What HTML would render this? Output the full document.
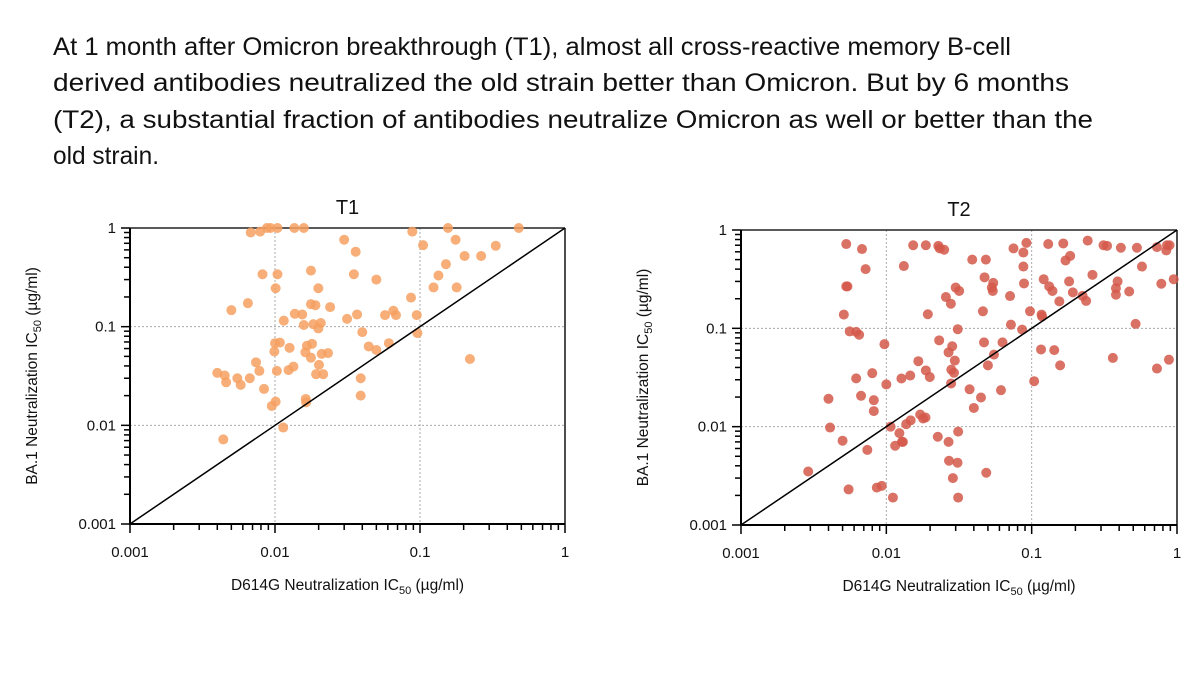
<!DOCTYPE html>
<html><head><meta charset="utf-8">
<style>
html,body{margin:0;padding:0;background:#fff;}
svg{display:block;font-family:"Liberation Sans",Arial,sans-serif;}
</style></head>
<body>
<svg id="root" width="1200" height="675" viewBox="0 0 1200 675">
  <g font-size="25" fill="#111" font-family="'Liberation Sans',sans-serif">
    <text x="53" y="55" textLength="958" lengthAdjust="spacingAndGlyphs">At 1 month after Omicron breakthrough (T1), almost all cross-reactive memory B-cell</text>
    <text x="53" y="91" textLength="1016" lengthAdjust="spacingAndGlyphs">derived antibodies neutralized the old strain better than Omicron. But by 6 months</text>
    <text x="53" y="128" textLength="1040" lengthAdjust="spacingAndGlyphs">(T2), a substantial fraction of antibodies neutralize Omicron as well or better than the</text>
    <text x="53" y="164" textLength="106" lengthAdjust="spacingAndGlyphs">old strain.</text>
  </g>
</svg>
<script>
// ---- data: T1 (orange) ----
const t1X = [0.0068,0.0079,0.0088,0.0093,0.0104,0.0136,0.0158,0.030,0.036,0.0885,0.156,0.48,0.105,0.176,0.203,0.264,0.333,0.151,0.134,0.124,0.179,0.0082,0.0104,0.0101,0.0177,0.035,0.050,0.0199,0.0065,0.0050,0.0177,0.019,0.024,0.0867,0.0137,0.0154,0.0115,0.0158,0.0184,0.0207,0.0199,0.0314,0.0368,0.0574,0.0655,0.0683,0.095,0.096,0.040,0.010,0.0108,0.0099,0.0126,0.0166,0.018,0.0162,0.0177,0.021,0.0232,0.0443,0.050,0.061,0.221,0.0201,0.0192,0.0215,0.0074,0.0078,0.0040,0.0045,0.0046,0.0055,0.0058,0.0067,0.0103,0.0124,0.0134,0.0084,0.039,0.039,0.0101,0.0095,0.0163,0.0164,0.0114,0.0044];
const t1Y = [0.90,0.92,1.0,1.0,1.0,1.0,1.0,0.76,0.575,0.92,1.0,1.0,0.67,0.76,0.52,0.52,0.66,0.43,0.33,0.25,0.25,0.34,0.34,0.245,0.37,0.34,0.30,0.245,0.173,0.147,0.169,0.165,0.158,0.197,0.135,0.133,0.115,0.104,0.106,0.109,0.096,0.12,0.133,0.131,0.145,0.131,0.131,0.086,0.088,0.068,0.069,0.056,0.061,0.064,0.067,0.055,0.0485,0.053,0.054,0.063,0.058,0.068,0.047,0.041,0.033,0.033,0.0435,0.0356,0.034,0.032,0.0273,0.030,0.0257,0.030,0.0356,0.0363,0.0394,0.0234,0.030,0.020,0.0174,0.0157,0.0185,0.0171,0.0095,0.0072];
// ---- data: T2 (red) ----
const t2X = [0.0053,0.0068,0.0072,0.0053,0.0054,0.0051,0.0056,0.0065,0.0062,0.0097,0.0132,0.0153,0.0187,0.0228,0.0233,0.025,0.039,0.0484,0.0474,0.0544,0.0532,0.054,0.030,0.0317,0.0257,0.0278,0.0193,0.0462,0.071,0.075,0.0877,0.092,0.0877,0.0886,0.0974,0.117,0.118,0.121,0.130,0.165,0.243,0.312,0.33,0.411,0.53,0.728,0.853,0.889,0.844,0.184,0.171,0.262,0.574,0.181,0.132,0.139,0.192,0.224,0.237,0.155,0.39,0.38,0.38,0.469,0.78,0.949,0.519,0.362,0.728,0.88,0.157,0.116,0.143,0.104,0.072,0.086,0.063,0.047,0.055,0.050,0.0615,0.0374,0.0448,0.040,0.031,0.0231,0.0284,0.0268,0.0296,0.028,0.0292,0.0279,0.0166,0.0187,0.0199,0.0146,0.0127,0.010,0.008,0.0062,0.0067,0.0082,0.0082,0.0040,0.0041,0.0050,0.0074,0.0029,0.0055,0.0086,0.0093,0.0111,0.0107,0.0115,0.0123,0.0128,0.0130,0.0137,0.0147,0.0171,0.0179,0.0186,0.0226,0.0268,0.0312,0.027,0.0309,0.0287,0.0312,0.0487];
const t2Y = [0.72,0.64,0.40,0.267,0.267,0.138,0.093,0.086,0.092,0.069,0.43,0.70,0.70,0.69,0.65,0.63,0.50,0.50,0.33,0.29,0.26,0.24,0.26,0.24,0.208,0.178,0.139,0.149,0.213,0.65,0.59,0.74,0.425,0.286,0.149,0.138,0.132,0.316,0.72,0.73,0.78,0.70,0.69,0.66,0.66,0.67,0.70,0.70,0.62,0.545,0.49,0.35,0.425,0.30,0.267,0.24,0.232,0.214,0.19,0.188,0.30,0.256,0.22,0.237,0.284,0.316,0.111,0.050,0.039,0.048,0.042,0.061,0.060,0.029,0.109,0.097,0.072,0.072,0.054,0.042,0.0235,0.024,0.0198,0.0155,0.098,0.0755,0.0657,0.057,0.047,0.038,0.0353,0.0275,0.0463,0.0373,0.032,0.0331,0.0309,0.0269,0.035,0.031,0.0206,0.0186,0.0144,0.0192,0.0098,0.0072,0.0058,0.0035,0.0023,0.0024,0.0025,0.0019,0.010,0.0064,0.0086,0.0070,0.0070,0.0106,0.0116,0.0133,0.0121,0.0124,0.0079,0.0070,0.0089,0.0045,0.0043,0.0030,0.0019,0.0034];
const tickVals = [0.001,0.01,0.1,1];
const tickLabels = ["0.001","0.01","0.1","1"];

const NS = "http://www.w3.org/2000/svg";
const root = document.getElementById('root');
function mk(tag, attrs, parent){
  const e = document.createElementNS(NS, tag);
  for (const k in attrs) e.setAttribute(k, attrs[k]);
  (parent||root).appendChild(e);
  return e;
}

function drawChart(cfg){
  const {x0,x1,y0,y1,title,xs,ys,color,key} = cfg;
  const sx = v => x0 + (Math.log10(v)+3)/3*(x1-x0);
  const sy = v => y0 - (Math.log10(v)+3)/3*(y0-y1);
  const g = mk('g',{});
  
  

  // gridlines
  [0.01,0.1].forEach(v=>{
    const gl = mk('line',{x1:sx(v),x2:sx(v),y1:y1,y2:y0,stroke:'#aaa','stroke-width':1,'stroke-dasharray':'2,2'},g);
    
    
    const gh = mk('line',{x1:x0,x2:x1,y1:sy(v),y2:sy(v),stroke:'#aaa','stroke-width':1,'stroke-dasharray':'2,2'},g);
    
    
  });
  // frame top/right
  const top = mk('line',{x1:x0,x2:x1,y1:y1,y2:y1,stroke:'#222','stroke-width':1.6},g);
  
  
  const rt = mk('line',{x1:x1,x2:x1,y1:y1,y2:y0,stroke:'#222','stroke-width':1.6},g);
  
  

  // dots
  xs.forEach((xv,i)=>{
    const c = mk('circle',{cx:sx(xv),cy:sy(ys[i]),r:5,fill:color,'fill-opacity':0.85},g);
    
    
  });
  // identity line
  const d = mk('line',{x1:sx(0.001),y1:sy(0.001),x2:sx(1),y2:sy(1),stroke:'#000','stroke-width':1.5},g);
  
  

  // axes
  const ax = mk('line',{x1:x0,x2:x1,y1:y0,y2:y0,stroke:'#000','stroke-width':2},g);
  
  
  const ay = mk('line',{x1:x0,x2:x0,y1:y0,y2:y1,stroke:'#000','stroke-width':2},g);
  
  

  // ticks
  for (let dec=-3; dec<0; dec++){
    for (let m=1; m<10; m++){
      const v = m*Math.pow(10,dec);
      const major = m===1;
      const tx = mk('line',{x1:sx(v),x2:sx(v),y1:y0,y2:y0+(major?9:6),stroke:'#000','stroke-width':1.5},g);
      
      
      const ty = mk('line',{x1:x0-(major?9:6),x2:x0,y1:sy(v),y2:sy(v),stroke:'#000','stroke-width':1.5},g);
      
      
    }
  }
  const tx1 = mk('line',{x1:sx(1),x2:sx(1),y1:y0,y2:y0+9,stroke:'#000','stroke-width':1.5},g);
  
  
  const ty1 = mk('line',{x1:x0-9,x2:x0,y1:sy(1),y2:sy(1),stroke:'#000','stroke-width':1.5},g);
  
  

  tickVals.forEach((v,i)=>{
    const lx = mk('text',{x:sx(v),y:y0+33,'text-anchor':'middle','font-size':15,fill:'#111'},g);
    lx.textContent = tickLabels[i];
    
    
    const ly = mk('text',{x:x0-14,y:sy(v)+5,'text-anchor':'end','font-size':15,fill:'#111'},g);
    ly.textContent = tickLabels[i];
    
    
  });

  // titles
  const t = mk('text',{x:(x0+x1)/2,y:y1-14,'text-anchor':'middle','font-size':20,fill:'#111'},g);
  t.textContent = title;
  
  

  const xt = mk('text',{x:(x0+x1)/2,y:y0+66,'text-anchor':'middle','font-size':15.5,fill:'#111'},g);
  xt.innerHTML = 'D614G Neutralization IC<tspan font-size="11" dy="4">50</tspan><tspan dy="-4"> (µg/ml)</tspan>';
  
  

  const cy = (y0+y1)/2;
  const yt = mk('text',{x:x0-93,y:cy,'text-anchor':'middle','font-size':15.5,fill:'#111',transform:`rotate(-90 ${x0-93} ${cy})`},g);
  yt.innerHTML = 'BA.1 Neutralization IC<tspan font-size="11" dy="4">50</tspan><tspan dy="-4"> (µg/ml)</tspan>';
  
  
}

drawChart({x0:130,x1:565,y0:524,y1:228,title:'T1',xs:t1X,ys:t1Y,color:'#F6A060',key:'t1'});
drawChart({x0:741,x1:1177,y0:525,y1:230,title:'T2',xs:t2X,ys:t2Y,color:'#D4584A',key:'t2'});
</script>
</body></html>
